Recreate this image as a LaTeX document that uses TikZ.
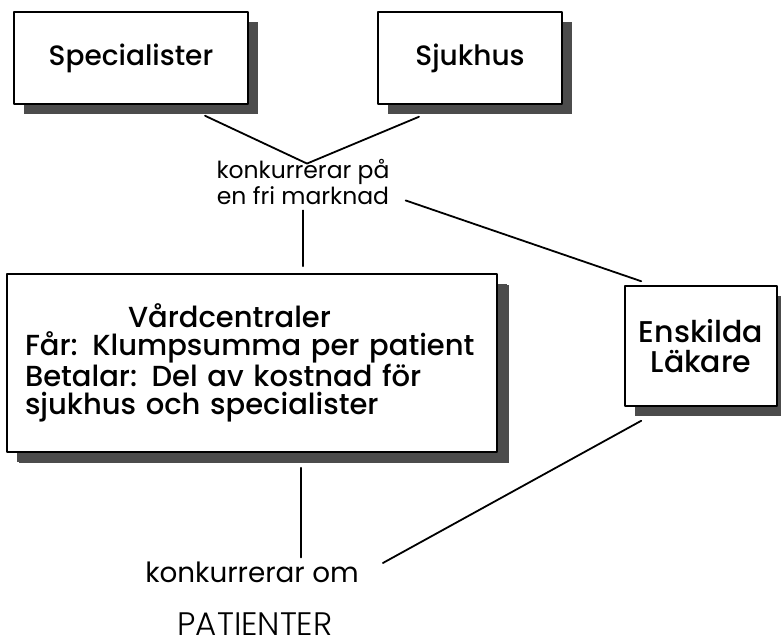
\documentclass[tikz,border=0pt]{standalone}
\usepackage{fontspec}
\setmainfont{Poppins}
\newfontfamily\boxfont{Poppins Medium}
\newfontfamily\thinfont{Poppins Light}
\usetikzlibrary{shadows,calc}
\begin{document}
\begin{tikzpicture}[x=1pt,y=-1pt,line join=round,line cap=round]
	\tikzset{box/.style={draw,line width=1.5pt,fill=white,inner sep=0pt,
		drop shadow={shadow xshift=10pt,shadow yshift=-10pt,fill=black!70,opacity=1},
		font=\boxfont\fontsize{28}{30}\selectfont}}
	\tikzset{lbl/.style={inner sep=0pt,align=center}}
	\tikzset{conn/.style={line width=1.8pt}}
	\useasboundingbox (0,0) rectangle (781,640);
	% the four boxes
	\node[box,minimum width=234pt,minimum height=92pt] (spec) at (131,58) {Specialister};
	\node[box,minimum width=184pt,minimum height=92pt] (sjuk) at (470,58) {Sjukhus};
	\node[box,text width=454pt,inner xsep=18pt,minimum height=178pt,align=left,
		drop shadow={shadow xshift=12pt,shadow yshift=-11pt,fill=black!70,opacity=1},
		font=\boxfont\fontsize{29}{28}\selectfont] (vc) at (252,363)
		{\hspace*{103pt}Vårdcentraler\\Får: Klumpsumma per patient\\Betalar: Del av kostnad för\\sjukhus och specialister};
	\node[box,minimum width=152pt,minimum height=120pt,align=center,
		font=\boxfont\fontsize{30}{30}\selectfont] (ensk) at (701,346) {Enskilda\\Läkare};
	% labels
	\node[lbl,font=\fontsize{23.5}{23}\selectfont] (mkt) at (303,182) {konkurrerar på\\en fri marknad};
	\node[lbl,font=\fontsize{27.8}{29}\selectfont] (om) at (252,572) {konkurrerar om};
	\node[lbl,font=\thinfont\fontsize{32.5}{32}\selectfont] (pat) at (255,624) {PATIENTER};
	% connectors
	\coordinate (a1) at ($(spec.south)+(74,11)$);
	\coordinate (a2) at ($(sjuk.south)+(-51,12)$);
	\coordinate (top) at ($(mkt.north)+(4,4)$);
	\draw[conn] (a1) -- (top) -- (a2);
	\coordinate (b1) at ($(mkt.south)+(0,6)$);
	\draw[conn] (b1) -- ($(b1 |- vc.north)+(0,-7)$);
	\coordinate (c1) at ($(mkt.south east)+(16,-4)$);
	\coordinate (c2) at ($(ensk.north west)+(17,-4)$);
	\draw[conn] (c1) -- (c2);
	\coordinate (d1) at ($(vc.south)+(49,15)$);
	\draw[conn] (d1) -- ($(d1 |- om.north)+(0,-4)$);
	\coordinate (e1) at ($(om.east)+(24,-9)$);
	\coordinate (e2) at ($(ensk.south west)+(17,14)$);
	\draw[conn] (e1) -- (e2);
\end{tikzpicture}
\end{document}
